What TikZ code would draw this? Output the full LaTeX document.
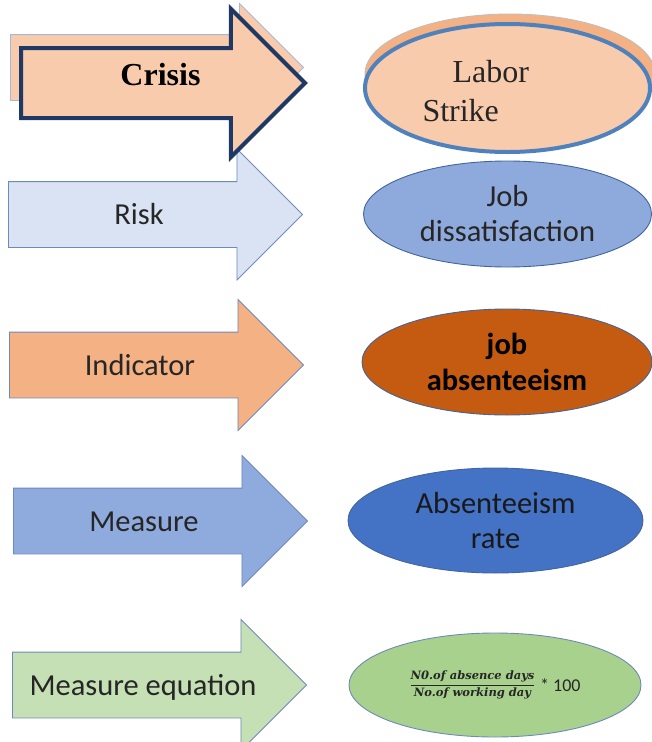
\documentclass[tikz,border=0pt]{standalone}
\usepackage{amsmath}
\usepackage{fontspec}
\setmainfont{Carlito}
\newfontfamily\timesfont{Liberation Serif}
\newfontfamily\eqfont{DejaVu Serif}
\usetikzlibrary{shapes.arrows, shapes.geometric}

% Colours
\definecolor{arrowline}{HTML}{6F89BC}
\definecolor{labeltext}{HTML}{262626}
\definecolor{crisisfill}{HTML}{F8CBAD}
\definecolor{crisisline}{HTML}{1F3864}
\definecolor{shadowline}{HTML}{A7B7D8}
\definecolor{riskfill}{HTML}{DAE3F3}
\definecolor{indicatorfill}{HTML}{F4B183}
\definecolor{measurefill}{HTML}{8FAADC}
\definecolor{eqfill}{HTML}{C5E0B4}
\definecolor{strikeline}{HTML}{4F81BD}
\definecolor{strikeshade}{HTML}{F4B183}
\definecolor{dissatfill}{HTML}{8EA9DB}
\definecolor{ovalline}{HTML}{41659E}
\definecolor{absentfill}{HTML}{C55A11}
\definecolor{ratefill}{HTML}{4472C4}
\definecolor{formulafill}{HTML}{A9D18E}

\begin{document}
\begin{tikzpicture}[
  x=1pt, y=-1pt,
  % Base style for the arrows
  basearrow/.style={single arrow, single arrow tip angle=90, anchor=tail,
    minimum height=294pt, single arrow head extend=32.5pt,
    inner xsep=0pt, inner ysep=18.5pt, text height=24pt, text depth=4pt,
    draw=arrowline, line width=0.9pt, text=labeltext,
    font=\fontsize{30.5}{36}\selectfont},
  % Styles inheriting from basearrow
  riskarrow/.style={basearrow, fill=riskfill},
  indicatorarrow/.style={basearrow, fill=indicatorfill},
  measurearrow/.style={basearrow, fill=measurefill},
  eqarrow/.style={basearrow, fill=eqfill},
  shadowarrow/.style={basearrow, fill=crisisfill, draw=shadowline,
    minimum height=293pt, single arrow head extend=31pt},
  crisisarrow/.style={basearrow, fill=crisisfill, draw=crisisline,
    line width=4pt, minimum height=284pt, single arrow head extend=39pt,
    inner ysep=0pt, text height=35pt, text depth=31pt, text=black,
    font=\timesfont\bfseries\fontsize{32}{38}\selectfont},
  % Base style for the ovals
  baseoval/.style={ellipse, inner sep=0pt, align=center, line width=0.9pt,
    draw=ovalline, text=labeltext, font=\fontsize{30.5}{35}\selectfont},
  dissatoval/.style={baseoval, fill=dissatfill, minimum width=288pt, minimum height=106pt},
  absentoval/.style={baseoval, fill=absentfill, minimum width=290pt, minimum height=106pt,
    text=black, font=\bfseries\fontsize{30.5}{36}\selectfont},
  rateoval/.style={baseoval, fill=ratefill, minimum width=295pt, minimum height=105pt, text=black!90},
  formulaoval/.style={baseoval, fill=formulafill, minimum width=292pt, minimum height=104pt,
    draw=arrowline, font=\fontsize{11.5}{14}\selectfont},
  strikeshadow/.style={baseoval, fill=strikeshade, draw=black!25,
    minimum width=290pt, minimum height=120pt},
  strikeoval/.style={baseoval, fill=crisisfill, draw=strikeline, line width=4pt,
    minimum width=285pt, minimum height=128pt, align=left, text width=170pt,
    text=black!85, font=\timesfont\fontsize{32}{39}\selectfont},
]
  \useasboundingbox (0,0) rectangle (652,742);

  % Left column: arrows, lowest first
  \node[eqarrow] (equation) at (12,685) {Measure equation};
  \node[measurearrow] (measure) at (13,521) {Measure};
  \node[indicatorarrow] (indicator) at (9,365) {Indicator};
  \node[riskarrow] (risk) at (8,214.5) {Risk};
  \node[shadowarrow] (crisis-shadow) at (10,67.5) {};
  \node[crisisarrow] (crisis) at (19,83) {\hspace*{30pt}Crisis};

  % Right column: ovals
  \node[formulaoval] (formula) at (495,685)
    {{\eqfont\bfseries\itshape$\dfrac{\text{N0.of absence days}}{\text{No.of working day}}$}\,
     \raisebox{-3pt}{\fontsize{18}{20}\selectfont * 100}};
  \node[rateoval] (rate) at (495.5,520.5) {Absenteeism\\rate};
  \node[absentoval] (absent) at (507,362) {job\\absenteeism};
  \node[dissatoval] (dissat) at (507.5,214) {Job\\dissatisfaction};
  \node[strikeshadow] (strike-shadow) at (510,74) {};
  \node[strikeoval] (strike) at (507.5,88) {\rule{0pt}{28pt}\hspace*{30pt}Labor\\Strike};

\end{tikzpicture}
\end{document}
